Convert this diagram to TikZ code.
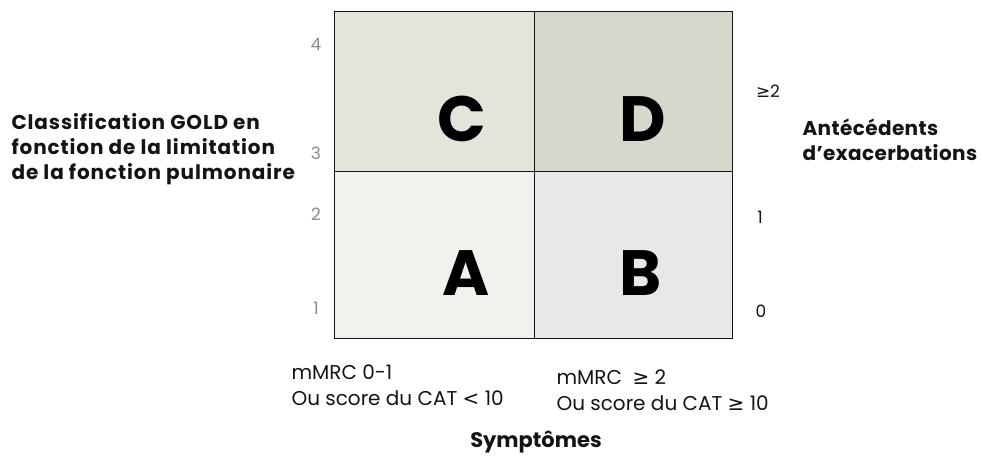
\documentclass[tikz,border=0pt]{standalone}
\usepackage{fontspec}
\setmainfont{Poppins}
\newfontfamily\symfont{DejaVu Sans}
\definecolor{goldC}{HTML}{E3E4DC}
\definecolor{goldD}{HTML}{D4D9CC}
\definecolor{goldA}{HTML}{F1F1EE}
\definecolor{goldB}{HTML}{E8E8E7}
\definecolor{goldInk}{HTML}{141414}
\definecolor{goldGrey}{HTML}{8A8A8A}
\newcommand{\goldgeq}{{\symfont ≥}}
\newcommand{\goldlt}{{\symfont <}}

\begin{document}
\begin{tikzpicture}[x=1pt, y=-1pt,
    cell/.style={draw=goldInk, line width=1pt, inner sep=0pt, anchor=north west},
    letter/.style={font=\fontsize{64}{64}\bfseries\selectfont, text=black},
    ytick/.style={font=\fontsize{17}{17}\selectfont, text=goldGrey},
    rtick/.style={font=\fontsize{17}{17}\selectfont, text=goldInk},
    title/.style={font=\fontsize{20}{25}\bfseries\selectfont\addfontfeature{LetterSpace=4.5}, align=left, text=goldInk},
    crit/.style={font=\fontsize{20}{26}\selectfont, align=left, anchor=west, text=goldInk}
  ]
    \useasboundingbox (0,0) rectangle (982,457);
    % the four GOLD groups
    \node[cell, fill=goldC, minimum width=200pt, minimum height=160pt] (cellC) at (334,11) {};
    \node[cell, fill=goldD, minimum width=198pt, minimum height=160pt] (cellD) at (534,11) {};
    \node[cell, fill=goldA, minimum width=200pt, minimum height=167pt] (cellA) at (334,171) {};
    \node[cell, fill=goldB, minimum width=198pt, minimum height=167pt] (cellB) at (534,171) {};
    \node[letter] (letC) at (462,119) {C};
    \node[letter] (letD) at (643,119) {D};
    \node[letter] (letA) at (466,273) {A};
    \node[letter] (letB) at (641,273) {B};

    % spirometric grades
    \node[ytick] (g4) at (316,44) {4};
    \node[ytick] (g3) at (316,153) {3};
    \node[ytick] (g2) at (316,214) {2};
    \node[ytick] (g1) at (316,308) {1};
    \node[title, anchor=west] (left) at (8,149) {Classification GOLD en\\fonction de la limitation\\de la fonction pulmonaire};

    % exacerbations
    \node[rtick] (e2) at (768,91) {\goldgeq2};
    \node[rtick] (e1) at (760,217) {1};
    \node[rtick] (e0) at (761,311) {0};
    \node[title, anchor=west, font=\fontsize{20}{25}\bfseries\selectfont\addfontfeature{LetterSpace=2}] (right) at (799,140) {Antécédents\\d’exacerbations};

    % symptoms
    \node[crit] (lowS) at (288,385) {mMRC 0-1\\Ou score du CAT \goldlt{} 10};
    \node[crit] (highS) at (553,390) {mMRC \ \goldgeq{} 2\\Ou score du CAT \goldgeq{} 10};
    \node[title, font=\fontsize{21}{21}\bfseries\selectfont] (sympt) at (536,442) {Symptômes};
  \end{tikzpicture}
\end{document}
